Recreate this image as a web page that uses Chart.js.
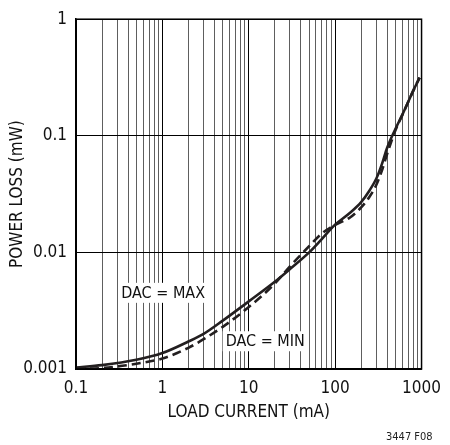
<!DOCTYPE html>
<html>
<head>
<meta charset="utf-8">
<script src="https://cdn.jsdelivr.net/npm/chart.js@4.4.1/dist/chart.umd.min.js"></script>
<style>
  html, body { margin:0; padding:0; background:#fff; }
  #wrap { position:relative; width:450px; height:445px; }
  #note { position:absolute; left:386px; top:430px; font:11px "DejaVu Sans Condensed", "Liberation Sans", Arial, sans-serif; color:#222; }
</style>
</head>
<body>
<div id="wrap">
  <canvas id="chart" width="450" height="445"></canvas>
  <div id="note">3447 F08</div>
</div>
<script>
/* ---- DATA ---- */
const loadCurrent = [0.1, 0.2, 0.5, 1, 2, 3, 5, 10, 20, 30, 50, 70, 100, 150, 200, 250, 300, 350, 400, 500, 600, 700, 800, 950];
const lossDacMax  = [0.00103, 0.00108, 0.0012, 0.00137, 0.00172, 0.002, 0.0026, 0.0038, 0.0056, 0.0072, 0.01, 0.013, 0.0173, 0.022, 0.027, 0.034, 0.043, 0.058, 0.079, 0.115, 0.152, 0.195, 0.243, 0.315];
const lossDacMin  = [0.001, 0.00102, 0.00111, 0.00123, 0.00152, 0.0018, 0.0023, 0.0034, 0.0054, 0.0076, 0.0113, 0.0145, 0.0172, 0.02, 0.0243, 0.03, 0.038, 0.051, 0.07, 0.112, 0.151, 0.195, 0.243, 0.315];

const xTicks = [0.1, 1, 10, 100, 1000];
const xTickLabels = ["0.1", "1", "10", "100", "1000"];
const yTicks = [0.001, 0.01, 0.1, 1];
const yTickLabels = ["0.001", "0.01", "0.1", "1"];

const FONT = "'DejaVu Sans Condensed', 'Liberation Sans', Arial, sans-serif";
const INK = "#231f20";

// 비-데이터 라벨: 곡선 옆 흰 박스 텍스트 (데이터 좌표로 위치 지정)
const curveLabels = [
  {text:"DAC = MAX", x:1.02, y:0.0045},
  {text:"DAC = MIN", x:15.5, y:0.00173},
];

const labelPlugin = {
  id:"curveLabels",
  beforeDatasetsDraw(chart){
    const {ctx, scales:{x, y}} = chart;
    ctx.save();
    ctx.font = "16px " + FONT;
    ctx.textAlign = "center";
    ctx.textBaseline = "middle";
    curveLabels.forEach(l=>{
      const px = x.getPixelForValue(l.x), py = y.getPixelForValue(l.y);
      const w = ctx.measureText(l.text).width + 6;
      ctx.fillStyle = "#fff";
      ctx.fillRect(px - w/2, py - 10, w, 20);
      ctx.fillStyle = "#111";
      ctx.fillText(l.text, px, py + 1);
    });
    ctx.restore();
  },
  afterDraw(chart){
    const {ctx, chartArea:a} = chart;
    ctx.save();
    ctx.strokeStyle = "#000";
    ctx.lineWidth = 1.5;
    ctx.strokeRect(a.left, a.top, a.right - a.left, a.bottom - a.top);
    ctx.restore();
  }
};

new Chart(document.getElementById("chart"), {
  type:"line",
  data:{
    labels:loadCurrent,
    datasets:[
      {label:"DAC = MAX", data:loadCurrent.map((v,i)=>({x:v, y:lossDacMax[i]})),
       borderColor:INK, borderWidth:2.6, pointRadius:0, cubicInterpolationMode:"monotone", fill:false},
      {label:"DAC = MIN", data:loadCurrent.map((v,i)=>({x:v, y:lossDacMin[i]})),
       borderColor:INK, borderWidth:2.6, borderDash:[9,5], pointRadius:0, cubicInterpolationMode:"monotone", fill:false},
    ]
  },
  options:{
    responsive:false,
    animation:false,
    devicePixelRatio:1,
    layout:{padding:{left:7, top:16, right:22, bottom:22}},
    plugins:{legend:{display:false}, tooltip:{enabled:false}},
    scales:{
      x:{
        type:"logarithmic", min:0.1, max:1000,
        afterBuildTicks(s){
          const t = [];
          [0.1, 1, 10, 100].forEach(d=>{ for(let k=1;k<=9;k++) t.push({value:k*d}); });
          t.push({value:1000});
          s.ticks = t;
        },
        afterFit(s){ s.height = 54; },
        grid:{
          drawTicks:false, lineWidth:1,
          color:c=> (c.tick && xTicks.includes(c.tick.value)) ? "#000" : "#5e5e5e",
        },
        border:{display:true, color:"#000", width:1.5},
        ticks:{
          autoSkip:false, maxRotation:0, padding:9, color:"#111",
          font:{family:FONT, size:17},
          callback:(v)=>{ const i = xTicks.indexOf(v); return i>=0 ? xTickLabels[i] : ""; }
        },
        title:{display:true, text:"LOAD CURRENT (mA)", color:"#111", padding:{top:0, bottom:0}, font:{family:FONT, size:17}}
      },
      y:{
        type:"logarithmic", min:0.001, max:1,
        afterBuildTicks(s){ s.ticks = yTicks.map(v=>({value:v})); },
        afterFit(s){ s.width = 69; },
        grid:{drawTicks:false, lineWidth:1, color:"#000"},
        border:{display:true, color:"#000", width:1.5},
        ticks:{
          autoSkip:false, padding:9, color:"#111",
          font:{family:FONT, size:17},
          callback:(v)=>{ const i = yTicks.indexOf(v); return i>=0 ? yTickLabels[i] : ""; }
        },
        title:{display:true, text:"POWER LOSS (mW)", color:"#111", padding:{top:0, bottom:0}, font:{family:FONT, size:17}}
      }
    }
  },
  plugins:[labelPlugin]
});
</script>
</body>
</html>
